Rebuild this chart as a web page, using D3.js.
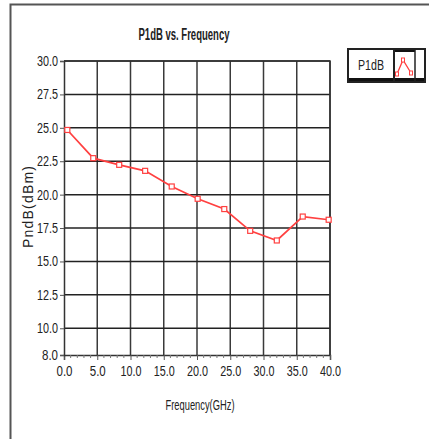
<!DOCTYPE html>
<html>
<head>
<meta charset="utf-8">
<script src="https://cdn.jsdelivr.net/npm/d3@7"></script>
<style>
  body { margin: 0; background: #fff; }
  svg { display: block; }
  text { font-family: "Liberation Sans", Arial, sans-serif; fill: #222; }
</style>
</head>
<body>
<svg width="429" height="439"></svg>
<script>
// data
const freq = [0.5, 4.4, 8.3, 12.2, 16.2, 20.1, 24.1, 28.0, 32.0, 35.9, 39.8];
const p1db = [24.84, 22.73, 22.23, 21.78, 20.61, 19.69, 18.92, 17.29, 16.57, 18.36, 18.12];
const xTicks = [0, 5, 10, 15, 20, 25, 30, 35, 40];
const yTicks = [8, 10, 12.5, 15, 17.5, 20, 22.5, 25, 27.5, 30];
const seriesName = 'P1dB';

const svg = d3.select('svg');
const width = +svg.attr('width');
const height = +svg.attr('height');

// plot box
const plotL = 64, plotR = 330, plotT = 61, plotB = 355;
const red = '#ff4040';

// outer panel frame (left + top edge only visible)
svg.append('path')
    .attr('d', `M10.5,${height} V4.5 H${width}`)
    .attr('fill', 'none')
    .attr('stroke', '#555')
    .attr('stroke-width', 2);

const x = d3.scaleLinear().domain([0, 40]).range([plotL, plotR]);
const y = d3.scaleLinear().domain([8, 30]).range([plotB, plotT]);

// grid
const grid = svg.append('g');
grid.selectAll('.vg')
    .data(xTicks.slice(1))
    .join('line')
        .attr('x1', d => x(d)).attr('x2', d => x(d))
        .attr('y1', plotT).attr('y2', plotB)
        .attr('stroke', '#3a3a3a')
        .attr('stroke-width', 1.5);
grid.selectAll('.hg')
    .data(yTicks.slice(1))
    .join('line')
        .attr('x1', plotL).attr('x2', plotR)
        .attr('y1', d => y(d)).attr('y2', d => y(d))
        .attr('stroke', '#222')
        .attr('stroke-width', 1.5);

// x axis: major + minor ticks
const xAxis = d3.axisBottom(x)
    .tickValues(xTicks)
    .tickFormat(d3.format('.1f'))
    .tickSize(5)
    .tickPadding(6);
const xg = svg.append('g')
    .attr('transform', `translate(0,${plotB})`)
    .call(xAxis);
xg.select('.domain').attr('stroke', '#333').attr('stroke-width', 1.5);
xg.selectAll('.tick line').attr('stroke', '#555');
xg.selectAll('.tick text')
    .attr('font-size', 14)
    .attr('textLength', d => d >= 10 ? 21 : 16)
    .attr('lengthAdjust', 'spacingAndGlyphs')
    .attr('fill', '#333');
xg.selectAll('.minor')
    .data(d3.range(0, 41).filter(d => d % 5 !== 0))
    .join('line')
        .attr('x1', d => x(d)).attr('x2', d => x(d))
        .attr('y1', 0).attr('y2', 3)
        .attr('stroke', '#777');

// y axis
const yAxis = d3.axisLeft(y)
    .tickValues(yTicks)
    .tickFormat(d3.format('.1f'))
    .tickSize(4)
    .tickPadding(2);
const yg = svg.append('g')
    .attr('transform', `translate(${plotL},0)`)
    .call(yAxis);
yg.select('.domain').attr('stroke', '#333').attr('stroke-width', 1.5);
yg.selectAll('.tick line').attr('stroke', '#555');
yg.selectAll('.tick text')
    .attr('font-size', 14)
    .attr('textLength', d => d >= 10 ? 21 : 16)
    .attr('lengthAdjust', 'spacingAndGlyphs')
    .attr('fill', '#333');

// top + right border
svg.append('path')
    .attr('d', `M${plotL},${plotT} H${plotR} V${plotB}`)
    .attr('fill', 'none')
    .attr('stroke', '#333')
    .attr('stroke-width', 1.5);

// series line
const pts = freq.map((f, i) => [f, p1db[i]]);
svg.append('path')
    .datum(pts)
    .attr('d', d3.line().x(d => x(d[0])).y(d => y(d[1])))
    .attr('fill', 'none')
    .attr('stroke', red)
    .attr('stroke-width', 1.7);

svg.selectAll('.mk')
    .data(pts)
    .join('rect')
        .attr('x', d => x(d[0]) - 2.5)
        .attr('y', d => y(d[1]) - 2.5)
        .attr('width', 5).attr('height', 5)
        .attr('fill', '#fff')
        .attr('stroke', red)
        .attr('stroke-width', 1.2);

// titles
svg.append('text')
    .attr('x', 184).attr('y', 40)
    .attr('text-anchor', 'middle')
    .attr('font-size', 16)
    .attr('font-weight', 'bold')
    .attr('textLength', 91)
    .attr('lengthAdjust', 'spacingAndGlyphs')
    .text('P1dB vs. Frequency');

svg.append('text')
    .attr('x', 200).attr('y', 410)
    .attr('text-anchor', 'middle')
    .attr('font-size', 15)
    .attr('textLength', 69)
    .attr('lengthAdjust', 'spacingAndGlyphs')
    .text('Frequency(GHz)');

svg.append('text')
    .attr('transform', 'translate(33,207) rotate(-90)')
    .attr('text-anchor', 'middle')
    .attr('font-size', 14)
    .attr('textLength', 82)
    .attr('lengthAdjust', 'spacing')
    .text('PndB(dBm)');

// legend
const lg = svg.append('g').attr('transform', 'translate(348,49)');
lg.append('rect')
    .attr('x', 0).attr('y', 0).attr('width', 77).attr('height', 33)
    .attr('fill', '#fff').attr('stroke', '#222').attr('stroke-width', 2);
lg.append('rect')
    .attr('x', 1).attr('y', 29).attr('width', 75).attr('height', 3)
    .attr('fill', '#111');
lg.append('rect')
    .attr('x', 46).attr('y', 1).attr('width', 21).attr('height', 2)
    .attr('fill', '#111');
lg.append('line')
    .attr('x1', 46).attr('x2', 46).attr('y1', 0).attr('y2', 33)
    .attr('stroke', '#222').attr('stroke-width', 2);
lg.append('line')
    .attr('x1', 67).attr('x2', 67).attr('y1', 0).attr('y2', 33)
    .attr('stroke', '#222').attr('stroke-width', 1.5);
lg.append('text')
    .attr('x', 23).attr('y', 21)
    .attr('text-anchor', 'middle')
    .attr('font-size', 15)
    .attr('textLength', 26)
    .attr('lengthAdjust', 'spacingAndGlyphs')
    .text(seriesName);
const icon = [[49, 25], [55, 11], [63, 24]];
lg.append('path')
    .attr('d', d3.line()(icon))
    .attr('fill', 'none')
    .attr('stroke', red)
    .attr('stroke-width', 1.3);
lg.selectAll('.imk')
    .data(icon)
    .join('rect')
        .attr('x', d => d[0] - 1.5).attr('y', d => d[1] - 2)
        .attr('width', 3).attr('height', 4)
        .attr('fill', '#fff')
        .attr('stroke', red);
</script>
</body>
</html>
